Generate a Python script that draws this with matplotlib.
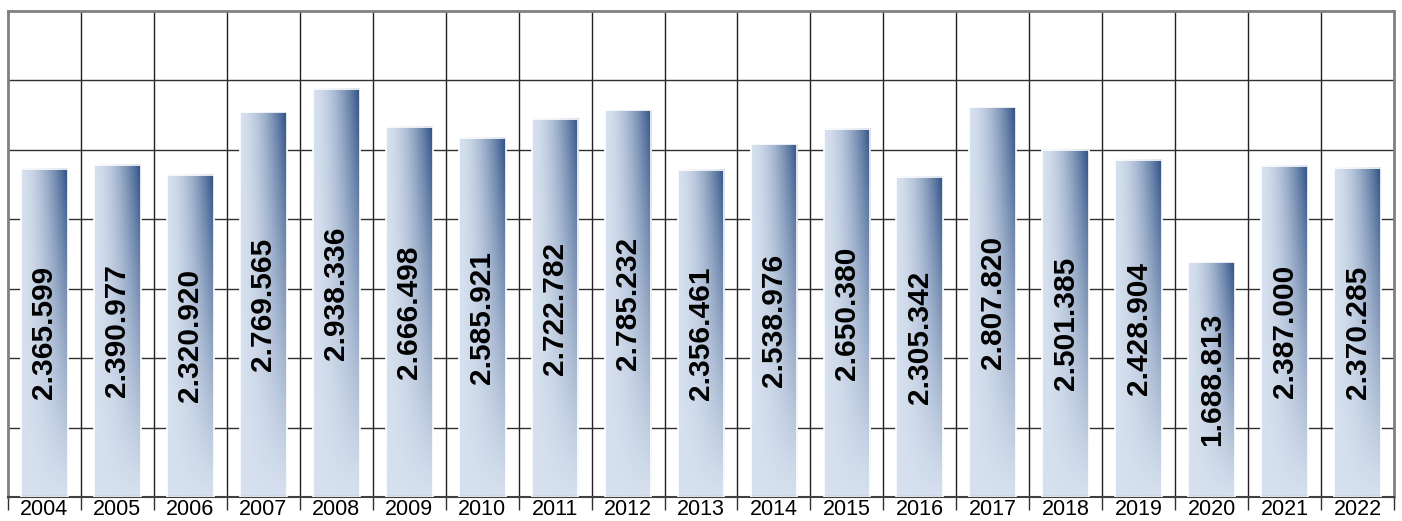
import numpy as np
import matplotlib
matplotlib.use("Agg")
from matplotlib import pyplot as plt
from matplotlib.patches import Rectangle

# datos del grafico
anios = ["2004", "2005", "2006", "2007", "2008", "2009", "2010", "2011", "2012", "2013",
         "2014", "2015", "2016", "2017", "2018", "2019", "2020", "2021", "2022"]
valores = [2365599, 2390977, 2320920, 2769565, 2938336, 2666498, 2585921, 2722782,
           2785232, 2356461, 2538976, 2650380, 2305342, 2807820, 2501385, 2428904,
           1688813, 2387000, 2370285]
etiquetas = ["2.365.599", "2.390.977", "2.320.920", "2.769.565", "2.938.336", "2.666.498",
             "2.585.921", "2.722.782", "2.785.232", "2.356.461", "2.538.976", "2.650.380",
             "2.305.342", "2.807.820", "2.501.385", "2.428.904", "1.688.813", "2.387.000",
             "2.370.285"]

plt.rcParams['font.family'] = ['Liberation Sans', 'DejaVu Sans']

fig = plt.figure(figsize=(14.02, 5.21), dpi=100)
ax = fig.add_axes([8/1402, 24/521, 1386/1402, 486/521])

n = len(anios)
ax.set_xlim(0, n)
ax.set_ylim(0, 3500000)

# gradiente de las barras
light = np.array([0.84, 0.88, 0.935])
dark = np.array([0.21, 0.34, 0.54])
u = np.linspace(0, 1, 60)[None, :]
v = np.linspace(0, 1, 200)[:, None]
f = np.clip((u ** 1.7) * (v ** 1.1) * 1.05, 0, 1)
img = light[None, None, :] + (dark - light)[None, None, :] * f[:, :, None]

ancho = 0.64
for i, (val, txt) in enumerate(zip(valores, etiquetas)):
    x0 = i + 0.5 - ancho / 2
    ax.imshow(img, extent=(x0, x0 + ancho, 0, val), origin="lower",
              aspect="auto", zorder=2, interpolation="bilinear")
    ax.add_patch(Rectangle((x0, 0), ancho, val, fill=False, edgecolor="white",
                           linewidth=1.2, zorder=3))
    ax.text(i + 0.5, val / 2, txt, rotation=90, ha="center", va="center",
            fontsize=21.5, fontweight="bold", color="black", zorder=4)

# rejilla
for k in range(1, n):
    ax.axvline(k, color="#202020", linewidth=1, zorder=1)
for y in np.arange(500000, 3500000, 500000):
    ax.axhline(y, color="#303030", linewidth=1, zorder=1)

ax.set_xticks(np.arange(0, n + 1))
ax.set_xticklabels([])
ax.set_xticks(np.arange(n) + 0.5, minor=True)
ax.set_xticklabels(anios, minor=True, fontsize=15.5)
ax.tick_params(axis="x", which="major", length=9, width=1, color="#303030", direction="out")
ax.tick_params(axis="x", which="minor", length=0, pad=1.5)
ax.set_yticks([])

for s in ax.spines.values():
    s.set_color("#808080")
    s.set_linewidth(2)
ax.spines["bottom"].set_color("#404040")
ax.spines["bottom"].set_linewidth(1.5)

fig.savefig("out.png", dpi=100)
